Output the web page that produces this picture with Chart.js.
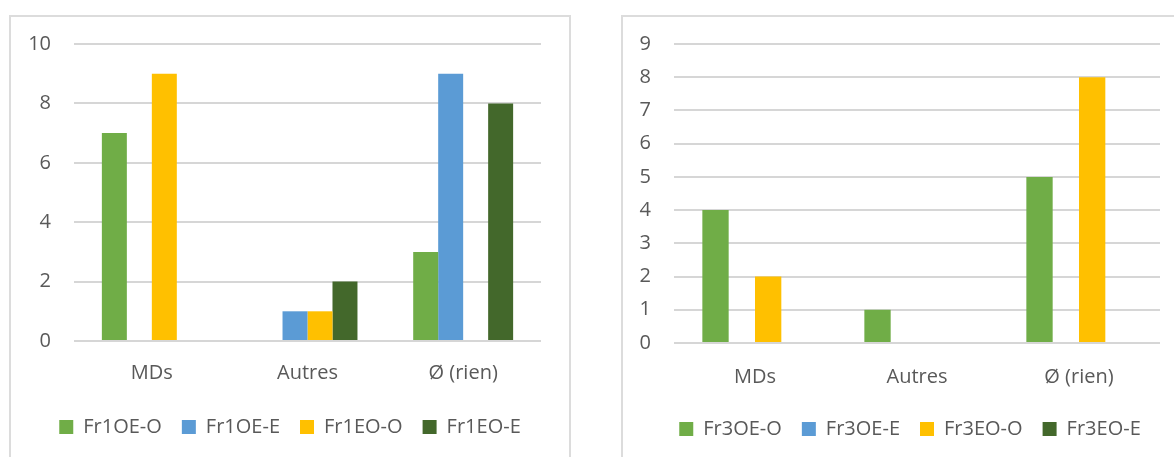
<!DOCTYPE html>
<html>
<head>
<meta charset="utf-8">
<script src="https://cdn.jsdelivr.net/npm/chart.js@4/dist/chart.umd.min.js"></script>
<style>
  html, body { margin: 0; padding: 0; background: #fff; width: 1174px; height: 457px; overflow: hidden; position: relative; }
  .frame { position: absolute; box-sizing: border-box; border: 2px solid #dcdcdc; background: #fff; }
  .wrap { position: absolute; top: 0; }
</style>
</head>
<body>
<div class="frame" style="left:9px; top:15px; width:562px; height:470px;"></div>
<div class="frame" style="left:621px; top:15px; width:600px; height:470px;"></div>
<div class="wrap" style="left:10px;"><canvas id="c1" width="560" height="457"></canvas></div>
<div class="wrap" style="left:622px;"><canvas id="c2" width="576" height="457"></canvas></div>
<script>
// ---- data ----
const categories = ["MDs", "Autres", "Ø (rien)"];

const leftSeriesNames = ["Fr1OE-O", "Fr1OE-E", "Fr1EO-O", "Fr1EO-E"];
const fr1OE_O = [7, 0, 3];
const fr1OE_E = [0, 1, 9];
const fr1EO_O = [9, 1, 0];
const fr1EO_E = [0, 2, 8];
const leftTicks = [0, 2, 4, 6, 8, 10];

const rightSeriesNames = ["Fr3OE-O", "Fr3OE-E", "Fr3EO-O", "Fr3EO-E"];
const fr3OE_O = [4, 1, 5];
const fr3OE_E = [0, 0, 0];
const fr3EO_O = [2, 0, 8];
const fr3EO_E = [0, 0, 0];
const rightTicks = [0, 1, 2, 3, 4, 5, 6, 7, 8, 9];

const colors = ["#70AD47", "#5B9BD5", "#FFC000", "#43682B"];

// ---- chart builder ----
const FONT = "'Open Sans', sans-serif";
const TXT = "#595959";

function build(id, names, series, ticks, opts) {
  const datasets = names.map((n, i) => ({
    label: n,
    data: series[i],
    backgroundColor: colors[i],
    borderWidth: 0,
    barPercentage: 1,
    categoryPercentage: opts.catPct
  }));
  return new Chart(document.getElementById(id), {
    type: 'bar',
    data: { labels: categories, datasets },
    options: {
      responsive: false,
      devicePixelRatio: 1,
      animation: false,
      layout: { padding: { top: 44, bottom: opts.padBottom, left: 0, right: 0 } },
      plugins: {
        tooltip: { enabled: false },
        legend: {
          position: 'bottom',
          labels: {
            boxWidth: 14, boxHeight: 14, padding: opts.legendPad,
            color: TXT, font: { family: FONT, size: 20 }
          }
        }
      },
      scales: {
        x: {
          grid: { display: false },
          border: { display: false },
          ticks: { color: TXT, font: { family: FONT, size: 20 }, padding: opts.xPad, maxRotation: 0 },
          afterFit: s => { s.height = opts.xHeight; }
        },
        y: {
          min: ticks[0], max: ticks[ticks.length - 1],
          afterBuildTicks: s => { s.ticks = ticks.map(v => ({ value: v })); },
          grid: { color: '#d6d6d6', lineWidth: 2, drawTicks: false },
          border: { display: false },
          ticks: { color: TXT, font: { family: FONT, size: 20 }, padding: 23 },
          afterFit: s => { s.width = opts.yWidth; }
        },
        yR: {
          position: 'right',
          display: true,
          grid: { display: false, drawTicks: false },
          border: { display: false },
          ticks: { display: false },
          afterFit: s => { s.width = opts.rWidth; }
        }
      }
    }
  });
}

build('c1', leftSeriesNames, [fr1OE_O, fr1OE_E, fr1EO_O, fr1EO_E], leftTicks,
  { catPct: 0.642, yWidth: 64, rWidth: 29, xPad: 12, xHeight: 56, legendPad: 20, padBottom: 10 });
build('c2', rightSeriesNames, [fr3OE_O, fr3OE_E, fr3EO_O, fr3EO_E], rightTicks,
  { catPct: 0.65, yWidth: 52, rWidth: 38, xPad: 14, xHeight: 56, legendPad: 20, padBottom: 8 });
</script>
</body>
</html>
